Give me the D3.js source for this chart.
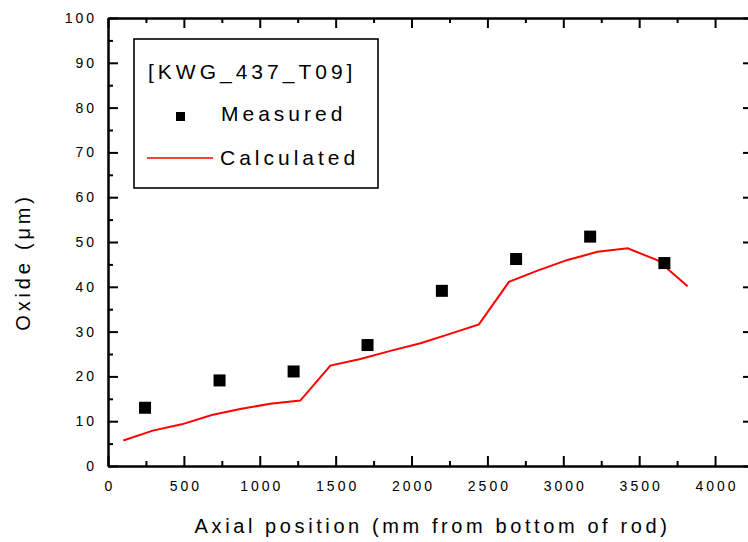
<!DOCTYPE html>
<html><head><meta charset="utf-8">
<script src="https://cdn.jsdelivr.net/npm/d3@7"></script>
<style>
body{margin:0;background:#fff;}
svg{display:block;font-family:"Liberation Sans",Arial,sans-serif;}
</style></head>
<body><svg id="c" width="748" height="542"></svg>
<script>
const measuredX = [244, 735, 1223, 1710, 2200, 2689, 3177, 3666];
const measuredY = [13.0, 19.1, 21.1, 27.0, 39.1, 46.2, 51.2, 45.3];
const calcX = [101, 295, 486, 684, 871, 1069, 1267, 1465, 1663, 1861, 2059, 2253, 2444, 2642, 2830, 3028, 3226, 3424, 3622, 3819];
const calcY = [5.7, 7.9, 9.3, 11.4, 12.7, 13.9, 14.6, 22.4, 23.9, 25.7, 27.4, 29.5, 31.6, 41.1, 43.6, 46.0, 47.8, 48.6, 45.9, 40.1];
const xTicks = [0, 500, 1000, 1500, 2000, 2500, 3000, 3500, 4000];
const xMinor = [250, 750, 1250, 1750, 2250, 2750, 3250, 3750, 4250];
const yTicks = [0, 10, 20, 30, 40, 50, 60, 70, 80, 90, 100];
const yMinor = [5, 15, 25, 35, 45, 55, 65, 75, 85, 95];
const legendTitle = "[KWG_437_T09]";
const seriesNames = ["Measured", "Calculated"];

const svg = d3.select("#c");
const L = 108, R = 753, T = 18, B = 466;
const x = d3.scaleLinear().domain([0, 4250]).range([L, R]);
const y = d3.scaleLinear().domain([0, 100]).range([B, T]);

function styleAxis(g){
  g.select(".domain").attr("stroke","#000").attr("stroke-width",2);
  g.selectAll(".tick line").attr("stroke","#000").attr("stroke-width",2);
  g.selectAll(".tick text").attr("font-size",14).attr("fill","#000").attr("letter-spacing","3px").attr("font-family","Liberation Sans, Arial, sans-serif");
}
// bottom
const gb = svg.append("g").attr("transform",`translate(0,${B})`)
  .call(d3.axisBottom(x).tickValues(xTicks).tickSize(-10).tickPadding(15).tickFormat(d3.format("d")).tickSizeOuter(0));
styleAxis(gb); gb.selectAll(".tick text").attr("dx","1.5");
const gbm = svg.append("g").attr("transform",`translate(0,${B})`)
  .call(d3.axisBottom(x).tickValues(xMinor).tickSize(-5).tickFormat("").tickSizeOuter(0));
styleAxis(gbm);
// top
const gt = svg.append("g").attr("transform",`translate(0,${T})`)
  .call(d3.axisTop(x).tickValues(xTicks).tickSize(-10).tickFormat("").tickSizeOuter(0));
styleAxis(gt);
const gtm = svg.append("g").attr("transform",`translate(0,${T})`)
  .call(d3.axisTop(x).tickValues(xMinor).tickSize(-5).tickFormat("").tickSizeOuter(0));
styleAxis(gtm);
// left
const gl = svg.append("g").attr("transform",`translate(${L},0)`)
  .call(d3.axisLeft(y).tickValues(yTicks).tickSize(-10).tickPadding(11).tickFormat(d3.format("d")).tickSizeOuter(0));
styleAxis(gl);
const glm = svg.append("g").attr("transform",`translate(${L},0)`)
  .call(d3.axisLeft(y).tickValues(yMinor).tickSize(-5).tickFormat("").tickSizeOuter(0));
styleAxis(glm);
// right
const gr = svg.append("g").attr("transform",`translate(${R},0)`)
  .call(d3.axisRight(y).tickValues(yTicks).tickSize(-10).tickFormat("").tickSizeOuter(0));
styleAxis(gr);
const grm = svg.append("g").attr("transform",`translate(${R},0)`)
  .call(d3.axisRight(y).tickValues(yMinor).tickSize(-5).tickFormat("").tickSizeOuter(0));
styleAxis(grm);

// line
const line = d3.line().x((d,i)=>x(calcX[i])).y((d,i)=>y(calcY[i]));
svg.append("path").datum(calcY).attr("d",line).attr("fill","none").attr("stroke","#ff0000").attr("stroke-width",2);

// squares
const s = 12;
svg.selectAll("rect.m").data(measuredY).enter().append("rect").attr("class","m")
  .attr("x",(d,i)=>x(measuredX[i])-s/2).attr("y",d=>y(d)-s/2)
  .attr("width",s).attr("height",s).attr("fill","#000");

// axis titles
svg.append("text").attr("x",(L+R)/2+2).attr("y",533).attr("text-anchor","middle")
  .attr("font-size",20).attr("letter-spacing","3.6px").text("Axial position (mm from bottom of rod)");
svg.append("text").attr("transform","translate(30,262) rotate(-90)").attr("text-anchor","middle")
  .attr("font-size",20).attr("letter-spacing","3.8px").text("Oxide (\u03bcm)");

// legend
svg.append("rect").attr("x",134).attr("y",39).attr("width",244).attr("height",149)
  .attr("fill","#fff").attr("stroke","#000").attr("stroke-width",1.6);
svg.append("text").attr("x",148).attr("y",79).attr("font-size",21).attr("letter-spacing","4px").text(legendTitle);
svg.append("rect").attr("x",176).attr("y",112).attr("width",9).attr("height",9).attr("fill","#000");
svg.append("text").attr("x",221).attr("y",121).attr("font-size",21).attr("letter-spacing","4px").text(seriesNames[0]);
svg.append("line").attr("x1",147).attr("x2",213).attr("y1",158).attr("y2",158).attr("stroke","#ff0000").attr("stroke-width",1.5);
svg.append("text").attr("x",220).attr("y",165).attr("font-size",21).attr("letter-spacing","4px").text(seriesNames[1]);
</script></body></html>
